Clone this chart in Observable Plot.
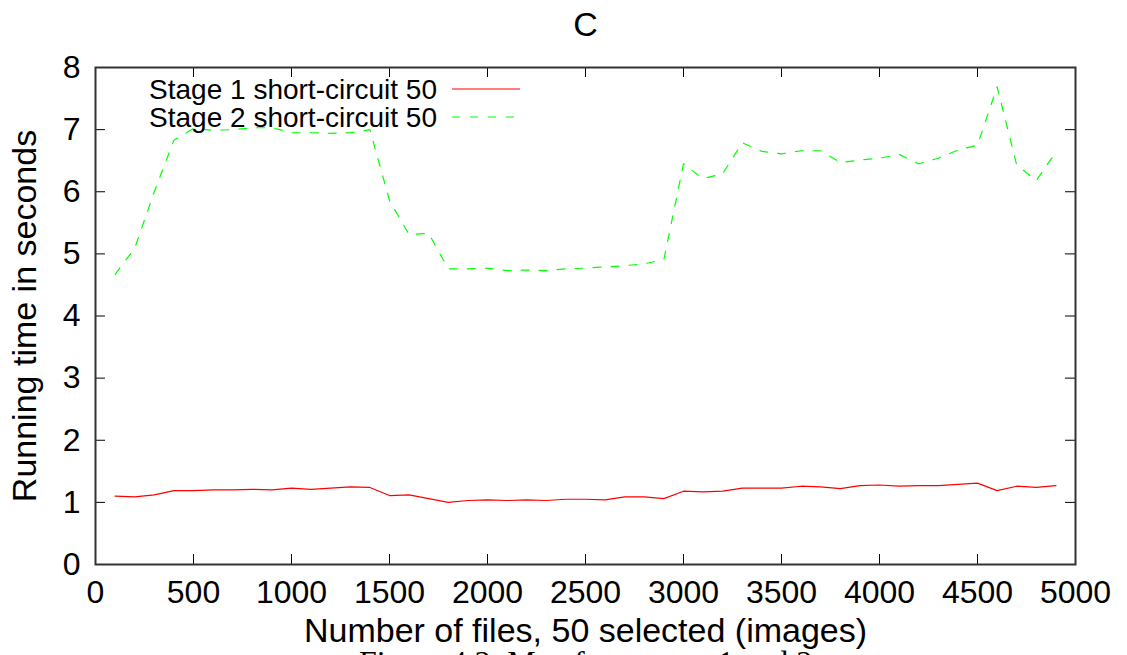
<!DOCTYPE html>
<html>
<head>
<meta charset="utf-8">
<script src="https://cdn.jsdelivr.net/npm/d3@7"></script>
<script src="https://cdn.jsdelivr.net/npm/@observablehq/plot@0.6"></script>
<style>
  html, body { margin: 0; padding: 0; background: #fff; overflow: hidden; }
  #chart svg { display: block; }
</style>
</head>
<body>
<div id="chart"></div>
<script>
const titleText = "C";
const xLabel = "Number of files, 50 selected (images)";
const yLabel = "Running time in seconds";
const captionText = "Figure 4.3: Map from stage 1 and 2";
const seriesNames = ["Stage 1 short-circuit 50", "Stage 2 short-circuit 50"];
const seriesColors = ["#ff0000", "#00ff00"];
const xTicks = [0, 500, 1000, 1500, 2000, 2500, 3000, 3500, 4000, 4500, 5000];
const yTicks = [0, 1, 2, 3, 4, 5, 6, 7, 8];

const files = [100, 200, 300, 400, 500, 600, 700, 800, 900, 1000,
  1100, 1200, 1300, 1400, 1500, 1600, 1700, 1800, 1900, 2000,
  2100, 2200, 2300, 2400, 2500, 2600, 2700, 2800, 2900, 3000,
  3100, 3200, 3300, 3400, 3500, 3600, 3700, 3800, 3900, 4000,
  4100, 4200, 4300, 4400, 4500, 4600, 4700, 4800, 4900];

const stage1 = [1.10, 1.09, 1.12, 1.19, 1.19, 1.20, 1.20, 1.21, 1.20, 1.23,
  1.21, 1.23, 1.25, 1.24, 1.11, 1.12, 1.06, 1.00, 1.03, 1.04,
  1.03, 1.04, 1.03, 1.05, 1.05, 1.04, 1.09, 1.09, 1.06, 1.18,
  1.17, 1.18, 1.23, 1.23, 1.23, 1.26, 1.25, 1.22, 1.27, 1.28,
  1.26, 1.27, 1.27, 1.29, 1.31, 1.19, 1.26, 1.24, 1.27];

const stage2 = [4.67, 5.09, 6.00, 6.83, 7.02, 6.99, 7.00, 7.03, 7.03, 6.95,
  6.95, 6.94, 6.95, 7.00, 5.86, 5.31, 5.33, 4.76, 4.76, 4.77,
  4.73, 4.74, 4.73, 4.76, 4.77, 4.79, 4.81, 4.84, 4.91, 6.45,
  6.21, 6.29, 6.79, 6.65, 6.61, 6.66, 6.66, 6.47, 6.51, 6.54,
  6.60, 6.45, 6.54, 6.67, 6.75, 7.69, 6.43, 6.18, 6.64];

const rows1 = files.map((f, i) => ({files: f, time: stage1[i]}));
const rows2 = files.map((f, i) => ({files: f, time: stage2[i]}));

const W = 1127, H = 655;
const mL = 95, mR = 52, mT = 67, mB = 91;
const innerW = W - mL - mR, innerH = H - mT - mB;
const tickLen = 10;
const font = "Liberation Sans, Arial, sans-serif";
const dashes = "8,10";

function legend(index, scales, values, dims) {
  const g = d3.create("svg:g").attr("font-family", font).attr("font-size", 28);
  const textRight = dims.marginLeft + 342;
  seriesNames.forEach((name, i) => {
    const y = dims.marginTop + 22 + i * 28;
    g.append("text").attr("x", textRight).attr("y", y).attr("dy", "0.35em")
      .attr("text-anchor", "end").attr("fill", "#000").text(name);
    g.append("line").attr("x1", textRight + 15).attr("x2", textRight + 83)
      .attr("y1", y).attr("y2", y)
      .attr("stroke", seriesColors[i]).attr("stroke-width", 1.2)
      .attr("stroke-dasharray", i === 1 ? dashes : null);
  });
  return g.node();
}

const chart = Plot.plot({
  width: W,
  height: H,
  marginLeft: mL,
  marginRight: mR,
  marginTop: mT,
  marginBottom: mB,
  style: {fontFamily: font, fontSize: "32px", background: "#fff", color: "#000"},
  x: {domain: [0, 5000], ticks: xTicks, tickSize: 0, tickPadding: 16, label: null, tickFormat: d => String(d)},
  y: {domain: [0, 8], ticks: yTicks, tickSize: 0, tickPadding: 15, label: null, tickFormat: d => String(d)},
  marks: [
    Plot.tickX(xTicks, {x: d => d, insetTop: innerH - tickLen, stroke: "#000", strokeWidth: 1}),
    Plot.tickX(xTicks, {x: d => d, insetBottom: innerH - tickLen, stroke: "#000", strokeWidth: 1}),
    Plot.tickY(yTicks, {y: d => d, insetRight: innerW - tickLen, stroke: "#000", strokeWidth: 1}),
    Plot.tickY(yTicks, {y: d => d, insetLeft: innerW - tickLen, stroke: "#000", strokeWidth: 1}),
    Plot.line(rows1, {x: "files", y: "time", stroke: seriesColors[0], strokeWidth: 1.2}),
    Plot.line(rows2, {x: "files", y: "time", stroke: seriesColors[1], strokeWidth: 1.2, strokeDasharray: dashes}),
    Plot.frame({stroke: "#333", strokeWidth: 2}),
    legend,
    Plot.text([titleText], {frameAnchor: "top", lineAnchor: "middle", dy: -42, fontSize: 34, fill: "#000"}),
    Plot.text([yLabel], {frameAnchor: "left", lineAnchor: "middle", textAnchor: "middle", dx: -70, rotate: -90, fontSize: 34, fill: "#000"}),
    Plot.text([xLabel], {frameAnchor: "bottom", lineAnchor: "middle", dy: 67, fontSize: 34, fill: "#000"}),
    Plot.text([captionText], {frameAnchor: "bottom", lineAnchor: "middle", dy: 98, fontSize: 32, fill: "#000", fontFamily: "Liberation Serif, serif"})
  ]
});
document.getElementById("chart").appendChild(chart);
</script>
</body>
</html>
